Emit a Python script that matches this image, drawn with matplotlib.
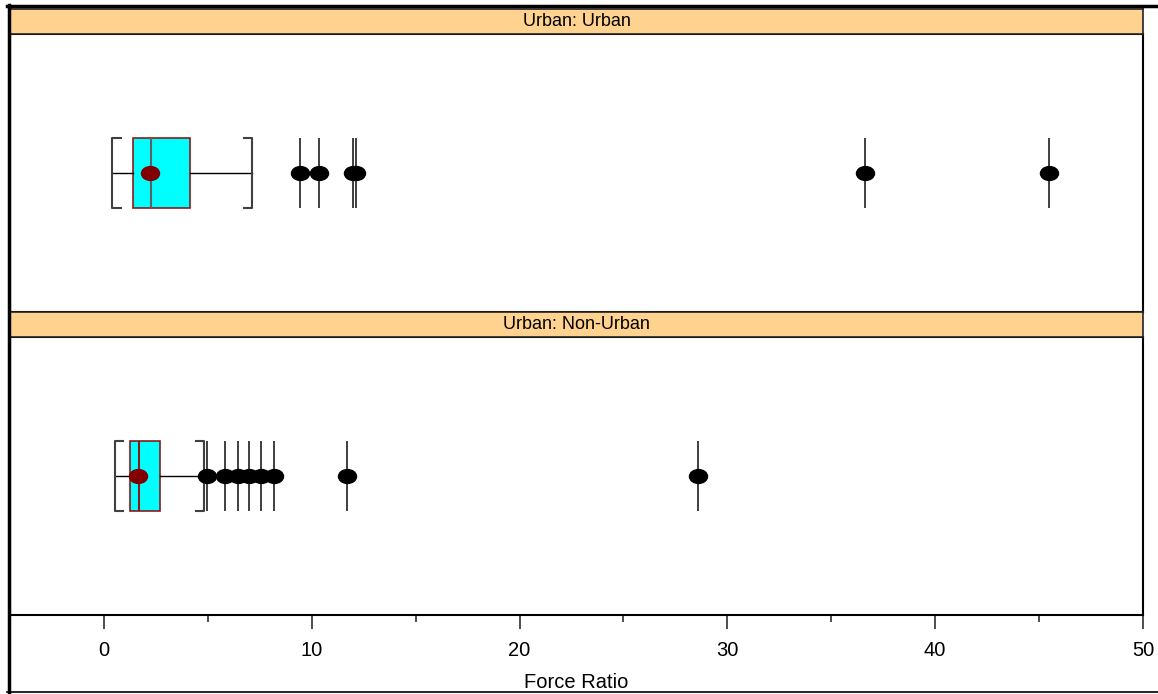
import matplotlib
matplotlib.use("Agg")
import matplotlib.pyplot as plt
import numpy as np
from matplotlib.path import Path
from matplotlib.lines import Line2D

plt.rcParams['font.family'] = ['Liberation Sans', 'DejaVu Sans']

# panel titles (top to bottom)
panels = ["Urban: Urban", "Urban: Non-Urban"]

# box summaries
whislo = [0.40, 0.53]
q1 = [1.41, 1.24]
med = [2.26, 1.67]
q3 = [4.15, 2.71]
whishi = [7.14, 4.83]
means = [2.20, 1.62]

# outliers per panel
out_urban = [9.43, 10.35, 11.97, 12.11, 36.64, 45.50]
out_nonurban = [4.97, 5.81, 6.43, 6.99, 7.57, 8.20, 11.68, 28.60]
outliers = [out_urban, out_nonurban]

xticks_major = [0, 10, 20, 30, 40, 50]
xticks_minor = [5, 15, 25, 35, 45]

#ellipse marker, a bit wider than tall
circ = Path.unit_circle()
ell = Path(circ.vertices * np.array([1.3, 1.0]), circ.codes)

W, H = 1158, 694
fig = plt.figure(figsize=(W / 100, H / 100), dpi=100)

left = 10 / W
width = (1143 - 10) / W
# pixel rows: panel top, panel bottom
rows = [(34, 312), (337, 615)]
strip_h = 25
med_cols = ['#606060', '#8b1a1a']

for i in range(2):
    top_px, bot_px = rows[i]
    ax = fig.add_axes([left, 1 - bot_px / H, width, (bot_px - top_px) / H])
    sax = fig.add_axes([left, 1 - top_px / H, width, strip_h / H])

    # strip
    sax.set_facecolor('#ffd38f')
    sax.set_xticks([])
    sax.set_yticks([])
    for s in sax.spines.values():
        s.set_linewidth(1.2)
        s.set_color('#222222')
    sax.text(0.5, 0.5, panels[i], ha='center', va='center', fontsize=13,
             transform=sax.transAxes)

    st = [dict(whislo=whislo[i], q1=q1[i], med=med[i], q3=q3[i],
               whishi=whishi[i], mean=means[i], fliers=[])]
    ax.bxp(st, positions=[0], widths=0.5, orientation='horizontal',
           showmeans=True, showcaps=False, showfliers=False, patch_artist=True,
           boxprops=dict(facecolor='#00ffff', edgecolor='#8b1a1a', linewidth=1.2),
           medianprops=dict(color=med_cols[i], linewidth=1.5),
           whiskerprops=dict(color='black', linewidth=1),
           meanprops=dict(marker=ell, markersize=13, markerfacecolor='#800000',
                          markeredgecolor='#800000'),
           zorder=2)

    # bracket caps
    hw = 0.25
    tk = 0.4
    ax.plot([whislo[i] + tk, whislo[i], whislo[i], whislo[i] + tk],
            [-hw, -hw, hw, hw], color='#404040', lw=1.5, zorder=3)
    ax.plot([whishi[i] - tk, whishi[i], whishi[i], whishi[i] - tk],
            [-hw, -hw, hw, hw], color='#404040', lw=1.5, zorder=3)

    # outliers: vertical line + ellipse
    ax.vlines(outliers[i], -hw, hw, color='#303030', lw=1.3, zorder=3)
    ax.plot(outliers[i], [0] * len(outliers[i]), linestyle='none', marker=ell,
            markersize=13, color='black', zorder=4)

    ax.set_xlim(-4.52, 50)
    ax.set_ylim(-1, 1)
    ax.set_yticks([])
    for s in ax.spines.values():
        s.set_linewidth(1.5)
        s.set_color('black')

    if i == 0:
        ax.set_xticks([])
    else:
        ax.set_xticks(xticks_major)
        ax.set_xticks(xticks_minor, minor=True)
        ax.tick_params(axis='x', which='major', length=10, width=1.3,
                       color='#404040', labelsize=14.5, pad=9)
        ax.tick_params(axis='x', which='minor', length=5, width=1.3,
                       color='#404040')
        ax.set_xlabel('Force Ratio', fontsize=14.5, labelpad=9)

# outer frame lines
fig.add_artist(Line2D([8.5 / W, 8.5 / W], [1 - 5 / H, 1 - 692 / H], color='black',
                      lw=2.5, transform=fig.transFigure))
fig.add_artist(Line2D([7 / W, 1.0], [1 - 6 / H, 1 - 6 / H], color='black',
                      lw=2.5, transform=fig.transFigure))
fig.add_artist(Line2D([7 / W, 1.0], [1 - 692 / H, 1 - 692 / H], color='black',
                      lw=1.2, transform=fig.transFigure))

fig.savefig('out.png', dpi=100)
